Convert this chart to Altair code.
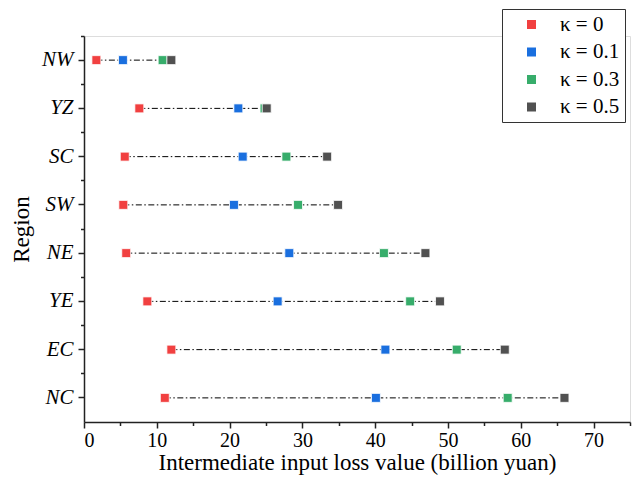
import altair as alt
import pandas as pd

regions = ["NW", "YZ", "SC", "SW", "NE", "YE", "EC", "NC"]
kappa_labels = ["κ = 0", "κ = 0.1", "κ = 0.3", "κ = 0.5"]
k0 = [1.7, 7.6, 5.6, 5.4, 5.8, 8.7, 12.0, 11.1]
k01 = [5.35, 21.2, 21.8, 20.6, 28.2, 26.6, 41.4, 40.1]
k03 = [10.8, 24.8, 27.8, 29.4, 41.2, 44.8, 51.2, 58.2]
k05 = [12.0, 25.1, 33.4, 34.9, 46.9, 48.9, 57.8, 66.0]
colors = ["#F14040", "#1A6FDF", "#37AD6B", "#515151"]
major_ticks = [0, 10, 20, 30, 40, 50, 60, 70]
minor_ticks = [5, 15, 25, 35, 45, 55, 65, 75]

rows = []
for lab, series in zip(kappa_labels, [k0, k01, k03, k05]):
    for r, v in zip(regions, series):
        rows.append({"region": r, "kappa": lab, "value": v})
df = pd.DataFrame(rows)

FONT = "Liberation Serif"

xscale = alt.Scale(domain=[0, 75], nice=False, zero=True)
yscale = alt.Scale(domain=regions, type="band", paddingInner=0, paddingOuter=0)

rules = alt.Chart(df).mark_rule(
    color="black", strokeWidth=1, strokeDash=[6, 2.5, 1.5, 2.5]
).encode(
    x=alt.X("min(value):Q", scale=xscale,
            axis=alt.Axis(orient="bottom", values=major_ticks, title="Intermediate input loss value (billion yuan)",
                          grid=False, tickSize=6, tickColor="#222", domainColor="#222",
                          domainWidth=1.5, tickWidth=1.5, labelFont=FONT, labelFontSize=20,
                          labelColor="black", labelPadding=2, titleFont=FONT, titleFontSize=23,
                          titleFontWeight="normal", titleColor="black", titlePadding=1)),
    x2="max(value):Q",
    y=alt.Y("region:N", scale=yscale, sort=regions,
            axis=alt.Axis(orient="left", title="Region", grid=False, tickSize=6, tickColor="#222",
                          domainColor="#222", domainWidth=1.5, tickWidth=1.5, labelFont=FONT,
                          labelFontSize=21, labelFontStyle="italic", labelColor="black",
                          labelPadding=5, titleFont=FONT, titleFontSize=23,
                          titleFontWeight="normal", titleColor="black", titlePadding=8)),
)

points = alt.Chart(df).mark_square(
    size=80, opacity=1, stroke="white", strokeWidth=0.8
).encode(
    x=alt.X("value:Q", scale=xscale,
            axis=alt.Axis(orient="bottom", values=minor_ticks, labels=False, title=None, domain=False,
                          grid=False, tickSize=3.5, tickColor="#222", tickWidth=1.5)),
    y=alt.Y("region:N", scale=yscale, sort=regions,
            axis=alt.Axis(orient="left", labels=False, title=None, domain=False, grid=False,
                          tickSize=3.5, tickColor="#222", tickWidth=1.5, bandPosition=0)),
    color=alt.Color("kappa:N", scale=alt.Scale(domain=kappa_labels, range=colors),
                    legend=alt.Legend(title=None, orient="none", legendX=418, legendY=-27,
                                      strokeColor="#333", padding=5,
                                      symbolType="square", symbolSize=81, symbolStrokeWidth=0,
                                      symbolOffset=14, labelOffset=18, rowPadding=5.5,
                                      labelFont=FONT, labelFontSize=21, labelColor="black",
                                      fillColor="white")),
)

chart = alt.layer(rules, points).resolve_axis(x="independent", y="independent").properties(
    width=546, height=386,
    autosize=alt.AutoSizeParams(type="none"),
    padding={"left": 84, "top": 36, "right": 6, "bottom": 72},
).configure_view(stroke=None).configure(background="white")

chart.save("out.html", embed_options={"renderer": "svg", "actions": False})
